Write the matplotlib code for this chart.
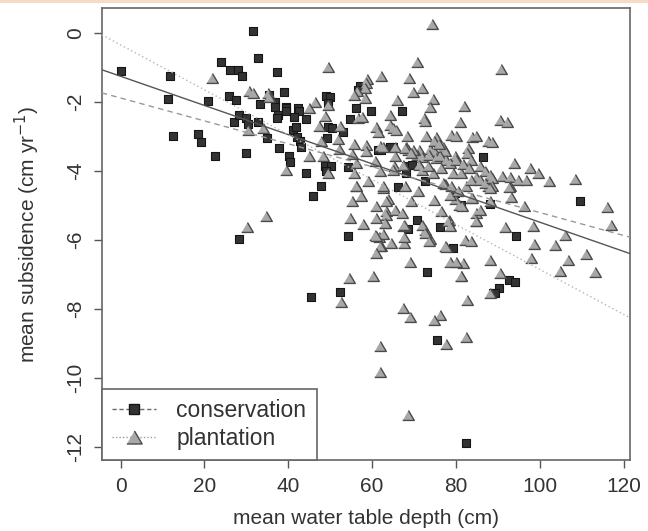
import numpy as np
import matplotlib
matplotlib.use("Agg")
import matplotlib.pyplot as plt
from matplotlib.lines import Line2D
from matplotlib.patches import Rectangle

plt.rcParams['font.family'] = ['Liberation Sans', 'DejaVu Sans']

# conservation sites: (water table depth, subsidence)
cons_x = [0.2, 11.9, 11.3, 12.6, 24.0, 26.0, 28.0, 28.9, 31.6, 32.8, 37.2, 20.8, 25.8, 27.6,
          18.5, 19.3, 22.6, 29.8, 27.0, 28.2, 30.0, 30.4, 32.8, 33.2, 35.4, 36.9, 36.8, 37.5,
          37.2, 38.9, 39.5, 34.9, 37.9, 40.2, 40.4, 28.2, 39.4, 39.5, 42.3, 42.6, 41.4, 44.3,
          41.1, 41.9, 42.1, 42.7, 43.1, 49.1, 49.9, 49.5, 49.5, 50.4, 53.1, 49.2, 44.2, 48.7,
          50.3, 49.1, 54.2, 47.9, 57.0, 56.6, 59.8, 56.1, 54.7, 61.4, 67.2, 45.9, 54.2, 62.2,
          65.0, 68.2, 68.2, 69.6, 72.7, 66.2, 70.6, 68.6, 76.1, 79.7, 81.3, 79.3, 64.2, 86.5,
          73.1, 88.9, 109.5, 94.4, 92.7, 94.0, 90.3, 89.3, 88.1, 45.5, 52.3, 75.5, 82.3]
cons_y = [-1.12, -1.24, -1.92, -3.0, -0.85, -1.07, -1.07, -1.24, 0.06, -0.72, -1.14, -1.99, -1.82, -1.96,
          -2.94, -3.18, -3.58, -3.49, -2.59, -2.38, -2.47, -2.65, -2.59, -2.07, -1.80, -2.01, -2.14, -2.38,
          -2.47, -1.73, -2.14, -3.05, -3.34, -3.58, -3.75, -5.97, -2.18, -2.28, -2.18, -2.28, -2.43, -2.49,
          -2.83, -2.73, -3.02, -3.15, -3.30, -1.83, -1.86, -2.04, -2.73, -2.76, -2.89, -3.05, -4.07, -3.86,
          -3.86, -4.02, -3.89, -4.45, -1.54, -1.65, -2.28, -2.18, -2.49, -3.39, -2.26, -4.74, -5.90, -3.39,
          -3.32, -3.87, -4.07, -3.83, -4.31, -4.48, -5.42, -5.69, -5.64, -4.65, -4.99, -6.24, -3.31, -3.60,
          -6.94, -7.55, -4.89, -5.90, -7.16, -7.23, -7.40, -7.55, -4.96, -7.67, -7.52, -8.90, -11.89]

# plantation sites
plant_x = [21.8, 30.6, 31.7, 35.2, 35.3, 34.0, 30.4, 39.4, 34.6, 30.1,
           49.5, 58.9, 58.6, 58.2, 56.4, 55.8, 58.2, 62.2, 46.5, 44.9, 49.5, 48.7, 47.3, 52.3,
           51.9, 52.1, 47.9, 56.6, 57.7, 55.8, 58.6, 58.5, 61.0, 61.4, 44.9, 48.3, 49.5, 55.8,
           56.1, 61.8, 59.0, 56.1, 60.6,
           74.3, 70.7, 68.8, 69.8, 71.9, 74.5, 65.9, 73.7, 81.9, 64.2, 72.4, 72.6, 80.9, 64.2,
           65.0, 65.8, 68.4, 72.8, 75.2, 78.9, 80.1, 83.9, 84.9, 61.8, 62.6, 65.4, 68.2, 68.6,
           71.2, 70.7, 71.8, 73.7, 74.7, 73.6, 75.3, 76.9, 77.3, 76.1, 77.7, 79.7, 78.7, 82.9,
           82.6, 83.7, 55.3, 65.2, 65.0, 67.4, 71.2, 71.8, 74.5, 73.3, 76.5, 79.3, 81.3, 84.7,
           56.2, 57.4, 62.6, 63.8, 63.4, 71.0, 69.2, 74.8, 77.3, 79.7, 82.5, 83.5, 76.5, 80.7,
           84.9, 55.1, 60.9, 63.4, 65.4, 67.2, 54.8, 61.0, 63.0, 57.8, 67.4, 72.6, 78.3, 60.8,
           61.6, 73.7, 82.1, 64.6, 67.5, 77.3,
           74.8, 75.9, 87.7, 67.8, 69.8, 69.4, 80.1, 81.7, 83.1, 85.7, 86.9, 88.1, 87.7, 65.4,
           83.7, 85.7, 86.9, 62.6, 67.8, 76.9, 78.9,
           90.7, 90.5, 92.2, 88.5, 93.8, 97.6, 99.6, 90.9, 92.8, 94.8, 96.7, 102.2, 108.5, 88.5,
           92.8, 88.5, 88.2, 92.7, 93.2, 83.9, 81.5, 88.1, 85.8, 96.2, 116.1, 116.9, 84.9, 91.6,
           98.4, 106.0, 83.7, 98.6, 103.6, 111.1, 88.1, 98.0, 106.8, 81.7, 104.9, 113.1, 90.6,
           81.3, 88.1, 82.7, 82.3,
           78.5, 80.5, 63.4, 63.2, 62.7, 62.2, 67.5, 67.5, 71.8, 72.6, 73.6, 78.1, 78.7, 84.7,
           77.6, 69.0, 78.5, 80.1, 81.1, 67.4, 69.1, 76.1, 74.7,
           61.0, 61.8, 60.9, 54.5, 60.1, 52.7, 77.6, 62.0, 61.8, 68.6]
plant_y = [-1.31, -1.70, -1.75, -1.75, -1.85, -2.76, -2.81, -3.99, -5.32, -5.64,
           -0.99, -1.34, -1.46, -1.60, -1.70, -1.80, -1.89, -1.24, -2.02, -2.18, -2.09, -2.41, -2.70, -2.70,
           -3.08, -3.37, -3.15, -2.47, -2.44, -3.22, -3.25, -3.44, -2.72, -2.89, -3.57, -3.57, -4.07, -4.07,
           -3.78, -4.02, -4.31, -4.43, -3.73,
           0.26, -0.86, -1.30, -1.73, -1.60, -1.91, -1.94, -2.15, -2.12, -2.38, -2.47, -2.55, -2.60, -2.67,
           -2.76, -2.83, -3.00, -3.00, -3.02, -2.96, -3.00, -3.02, -3.00, -3.27, -3.31, -3.30, -3.30, -3.39,
           -3.39, -3.54, -3.59, -3.37, -3.44, -3.54, -3.63, -3.30, -3.44, -3.58, -3.68, -3.58, -3.78, -3.34,
           -3.49, -3.68, -3.52, -3.87, -3.97, -3.83, -3.83, -3.97, -4.07, -3.87, -3.92, -4.05, -4.07, -4.17,
           -4.45, -4.74, -4.50, -4.82, -4.89, -4.60, -4.87, -4.84, -4.39, -4.82, -4.45, -4.79, -5.18, -4.99,
           -5.23, -4.89, -5.01, -5.18, -5.13, -5.23, -5.37, -5.37, -5.50, -5.54, -5.59, -5.71, -5.44, -5.86,
           -5.92, -5.98, -6.00, -6.10, -6.10, -6.19,
           -3.15, -3.22, -3.15, -3.34, -3.39, -3.49, -3.68, -3.80, -3.92, -3.87, -4.02, -4.12, -4.45, -3.58,
           -4.26, -4.26, -4.36, -4.45, -4.45, -4.36, -4.45,
           -1.05, -2.52, -2.60, -3.18, -3.78, -3.92, -4.07, -4.14, -4.17, -4.26, -4.26, -4.31, -4.24, -4.21,
           -4.45, -4.45, -4.50, -4.48, -4.76, -4.79, -5.01, -4.89, -5.13, -5.03, -5.05, -5.57, -5.47, -5.64,
           -5.61, -5.86, -6.05, -6.12, -6.14, -6.42, -6.58, -6.53, -6.60, -6.68, -6.90, -6.92, -6.97,
           -7.04, -7.53, -7.74, -8.82,
           -4.70, -4.60, -5.28, -5.52, -5.83, -6.19, -5.57, -5.93, -5.57, -5.81, -6.05, -5.45, -5.61, -5.45,
           -6.22, -6.63, -6.63, -6.65, -7.04, -7.98, -8.25, -8.17, -8.32,
           -5.90, -6.19, -6.39, -7.11, -7.06, -7.79, -9.01, -9.07, -9.82, -11.09]

# fitted lines (intercept, slope)
fit_all = (-1.26, -0.0423)
fit_cons = (-1.89, -0.0332)
fit_plant = (-0.35, -0.0651)

fig = plt.figure(figsize=(6.48, 5.31), dpi=100)
ax = fig.add_axes([0.157, 0.134, 0.815, 0.851])

xlim = (-4.5, 121.5)
ylim = (-12.38, 0.72)
xx = np.array(xlim)

tri = [(-1, -0.85), (1, -0.85), (0, 0.85)]
ax.scatter(cons_x, cons_y, marker='s', s=30, facecolor='#333333',
           edgecolor='#151515', linewidth=0.8, zorder=3)
ax.scatter(plant_x, plant_y, marker=tri, s=70, facecolor='#a8a8a8',
           edgecolor='#4a4a4a', linewidth=1.0, zorder=4)

ax.plot(xx, fit_all[0] + fit_all[1] * xx, color='#555555', lw=1.0, zorder=5)
ax.plot(xx, fit_cons[0] + fit_cons[1] * xx, color='#999999', lw=1.0,
        dashes=(4, 3), zorder=5)
ax.plot(xx, fit_plant[0] + fit_plant[1] * xx, color='#b5b5b5', lw=1.0,
        dashes=(1, 2), zorder=5)

ax.set_xlim(xlim)
ax.set_ylim(ylim)
ax.set_xticks([0, 20, 40, 60, 80, 100, 120])
ax.set_yticks([0, -2, -4, -6, -8, -10, -12])
ax.set_yticklabels(['0', '-2', '-4', '-6', '-8', '-10', '-12'],
                   rotation=90, va='center')
ax.tick_params(direction='out', length=6, width=1, colors='#555555',
               labelcolor='#333333', labelsize=15, pad=6)
for sp in ax.spines.values():
    sp.set_color('#666666')
    sp.set_linewidth(1.2)

ax.set_xlabel('mean water table depth (cm)', fontsize=15, color='#333333',
              labelpad=10)
ax.set_ylabel('mean subsidence (cm yr$^{-1}$)', fontsize=15, color='#333333',
              labelpad=17)

handles = [
    Line2D([], [], color='#666666', lw=1.0, dashes=(3, 2), marker='s',
           markersize=7, markerfacecolor='#333333', markeredgecolor='#151515'),
    Line2D([], [], color='#999999', lw=1.0, dashes=(1, 1.5), marker=tri,
           markersize=11, markerfacecolor='#a8a8a8', markeredgecolor='#4a4a4a'),
]
leg = ax.legend(handles, ['conservation', 'plantation'], loc='lower left',
                borderaxespad=0, fancybox=False, framealpha=1,
                edgecolor='#666666', fontsize=16.5, handlelength=1.9,
                handletextpad=0.9, borderpad=0.45, labelspacing=0.2)
leg.get_frame().set_linewidth(1.2)
for t in leg.get_texts():
    t.set_color('#333333')

fig.add_artist(Rectangle((0, 0.994), 1, 0.006, transform=fig.transFigure,
                         color='#f6dcc6', lw=0))

fig.savefig('out.png', dpi=100)
